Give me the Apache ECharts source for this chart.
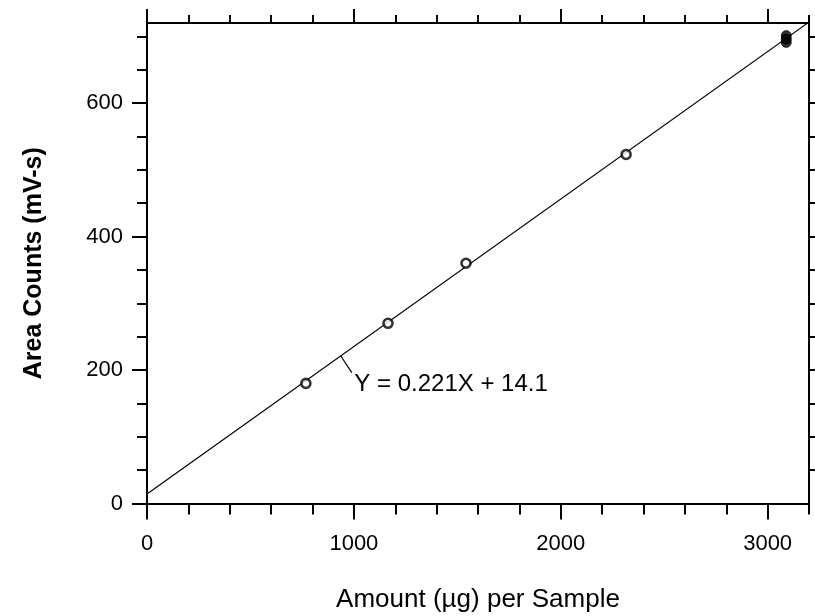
<!DOCTYPE html>
<html>
<head>
<meta charset="utf-8">
<script src="https://cdn.jsdelivr.net/npm/echarts@6/dist/echarts.min.js"></script>
<style>html,body{margin:0;padding:0;background:#fff}#c{width:815px;height:616px}</style>
</head>
<body>
<div id="c"></div>
<script>
// ---- data ----
const sampleX = [768, 1165, 1542, 2316];
const sampleY = [180, 270, 360, 523];
const topX = [3090, 3090, 3090];
const topY = [691, 696, 701];
const fitX = [0, 3200];
const fitY = [14.1, 721.3];
const leaderX = [937, 990];
const leaderY = [221, 196];
const annotText = 'Y = 0.221X + 14.1';
const xMajor = [0, 1000, 2000, 3000];
const xMinor = [200, 400, 600, 800, 1200, 1400, 1600, 1800, 2200, 2400, 2600, 2800, 3200];
const yMajor = [0, 200, 400, 600];
const yMinor = [50, 100, 150, 250, 300, 350, 450, 500, 550, 650, 700];
const yRight = [50, 100, 150, 200, 250, 300, 350, 400, 450, 500, 550, 600, 650, 700];
const xTitle = 'Amount (\u00b5g) per Sample';
const yTitle = 'Area Counts (mV-s)';

const FONT = '"Liberation Sans", Arial, sans-serif';
const BLK = '#000';

function ax(kind, pos, ticks, len, labels, line, name) {
  const o = {
    type: 'value', position: pos,
    min: 0, max: kind === 'x' ? 3200 : 720,
    interval: kind === 'x' ? 200 : 50,
    splitLine: {show: false},
    axisLine: {show: line, onZero: false, lineStyle: {color: BLK, width: 2}},
    axisTick: {show: true, customValues: ticks, length: len, inside: false,
               lineStyle: {color: BLK, width: 2}},
    axisLabel: labels ? {show: true, customValues: labels, color: BLK,
                         fontFamily: FONT, fontSize: 22,
                         formatter: v => String(v),
                         margin: kind === 'x' ? 29 : 24}
                      : {show: false}
  };
  if (name) {
    o.name = name;
    o.nameLocation = 'middle';
    if (kind === 'x') {
      o.nameGap = 83;
      o.nameTextStyle = {color: BLK, fontFamily: FONT, fontSize: 26};
    } else {
      o.nameGap = 100;
      o.nameRotate = 90;
      o.nameTextStyle = {color: BLK, fontFamily: FONT, fontSize: 25, fontWeight: 'bold'};
    }
  }
  return o;
}

const chart = echarts.init(document.getElementById('c'), null, {renderer: 'canvas'});
chart.setOption({
  animation: false,
  backgroundColor: '#fff',
  grid: {left: 147, right: 6, top: 23, bottom: 112.5, containLabel: false,
         outerBoundsMode: 'none'},
  xAxis: [
    ax('x', 'bottom', xMajor, 16, xMajor, true, xTitle),
    ax('x', 'bottom', xMinor, 11, null, false),
    ax('x', 'top', xMajor, 14, null, true),
    ax('x', 'top', xMinor, 8, null, false)
  ],
  yAxis: [
    ax('y', 'left', yMajor, 15, yMajor, true, yTitle),
    ax('y', 'left', yMinor, 10, null, false),
    ax('y', 'right', yRight, 6, null, true)
  ],
  series: [
    {
      type: 'line', xAxisIndex: 0, yAxisIndex: 0,
      data: fitX.map((x, i) => [x, fitY[i]]),
      showSymbol: false, symbol: 'none', silent: true,
      lineStyle: {color: BLK, width: 1.2}, z: 2
    },
    {
      type: 'line', xAxisIndex: 0, yAxisIndex: 0,
      data: leaderX.map((x, i) => [x, leaderY[i]]),
      symbol: 'none', silent: true,
      lineStyle: {color: BLK, width: 1.2}, z: 2
    },
    {
      type: 'scatter', xAxisIndex: 0, yAxisIndex: 0,
      data: [[leaderX[1], leaderY[1]]],
      symbolSize: 1, itemStyle: {color: 'rgba(0,0,0,0)'}, silent: true,
      label: {show: true, position: 'right', distance: 2, offset: [0, 12],
              formatter: annotText, color: BLK, opacity: 1,
              fontFamily: FONT, fontSize: 24}
    },
    {
      type: 'scatter', xAxisIndex: 0, yAxisIndex: 0,
      data: sampleX.map((x, i) => [x, sampleY[i]]),
      symbol: 'circle', symbolSize: 9,
      itemStyle: {color: '#fff', borderColor: BLK, borderWidth: 2.6}, z: 5
    },
    {
      type: 'scatter', xAxisIndex: 0, yAxisIndex: 0,
      data: topX.map((x, i) => [x, topY[i]]),
      symbol: 'circle', symbolSize: 10,
      itemStyle: {color: BLK, borderColor: BLK, borderWidth: 1}, z: 5
    }
  ]
});
</script>
</body>
</html>
